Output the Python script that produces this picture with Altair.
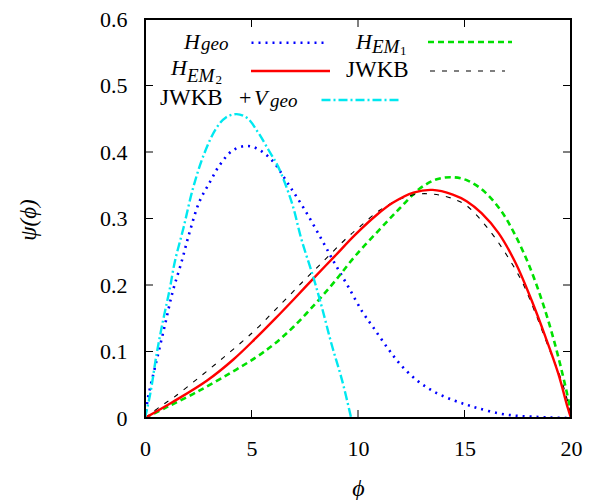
import altair as alt
import pandas as pd

# ---------------- data ----------------
X_TICKS = [0, 5, 10, 15, 20]
Y_TICKS = [0, 0.1, 0.2, 0.3, 0.4, 0.5, 0.6]
X_INNER_TICKS = [5, 10, 15]
Y_INNER_TICKS = [0.1, 0.2, 0.3, 0.4, 0.5]

# H_geo (blue dotted)
geo_x = [0, 0.15, 0.55, 0.95, 1.3, 1.7, 2.1, 2.55, 3.05, 3.5, 4.1, 4.7, 5.2, 5.95,
         6.7, 7.5, 8.3, 8.9, 9.55, 10.2, 10.7, 11.35, 11.95, 12.75, 13.55, 14.45,
         15.1, 15.65, 16.6, 17.4, 18.15, 19.0, 19.85]
geo_y = [0, 0.032, 0.087, 0.142, 0.19, 0.233, 0.28, 0.325, 0.355, 0.38, 0.402, 0.409,
         0.406, 0.388, 0.353, 0.313, 0.268, 0.233, 0.197, 0.16, 0.137, 0.107, 0.082,
         0.057, 0.04, 0.027, 0.02, 0.0146, 0.007, 0.0035, 0.002, 0.0008, 0]

# H_EM1 (green dashed)
em1_x = [0, 1.0, 2.25, 3.65, 5.2, 6.1, 7.0, 8.0, 8.9, 9.85, 11.0, 11.95, 12.9, 13.7,
         14.45, 15.15, 15.95, 16.75, 17.35, 18.0, 18.6, 19.1, 19.55, 19.95, 20]
em1_y = [0, 0.016, 0.036, 0.061, 0.091, 0.112, 0.138, 0.172, 0.205, 0.243, 0.283, 0.315,
         0.345, 0.359, 0.362, 0.357, 0.340, 0.310, 0.277, 0.232, 0.180, 0.128, 0.073,
         0.015, 0]

# H_EM2 (red solid)
em2_x = [0, 1.3, 2.9, 4.15, 5.2, 6.1, 7.0, 8.0, 8.9, 9.85, 10.9, 11.65, 12.6, 13.5,
         14.45, 15.1, 15.8, 16.6, 17.4, 18.15, 18.8, 19.4, 19.85, 20]
em2_y = [0, 0.024, 0.056, 0.088, 0.12, 0.149, 0.179, 0.213, 0.243, 0.275, 0.306, 0.324,
         0.339, 0.343, 0.336, 0.326, 0.308, 0.278, 0.233, 0.177, 0.122, 0.067, 0.015, 0]

# JWKB (black dashed)
jwkb_x = [0, 0.7, 1.35, 2.5, 3.65, 4.75, 5.2, 6.25, 7.35, 8.35, 9.45, 10.1, 11.0, 11.95,
          12.9, 13.85, 14.6, 15.15, 16.1, 16.9, 17.7, 18.3, 18.9, 19.55, 19.85, 20]
jwkb_y = [0, 0.017, 0.031, 0.06, 0.09, 0.12, 0.133, 0.167, 0.203, 0.235, 0.27, 0.288,
          0.312, 0.329, 0.337, 0.335, 0.328, 0.318, 0.285, 0.249, 0.205, 0.160, 0.110,
          0.057, 0.024, 0]

# JWKB + V_geo (cyan dash-dot)
jv_x = [0, 0.25, 0.55, 0.85, 1.15, 1.4, 1.8, 2.25, 2.75, 3.35, 3.8, 4.3, 4.8, 5.3, 5.8,
        6.25, 6.9, 7.35, 7.9, 8.3, 8.75, 9.25, 9.68]
jv_y = [0, 0.037, 0.097, 0.147, 0.192, 0.235, 0.285, 0.345, 0.395, 0.436, 0.452, 0.457,
        0.451, 0.43, 0.403, 0.378, 0.323, 0.268, 0.212, 0.167, 0.112, 0.057, 0.0]

# ---------------- layout / style ----------------
W, H = 426, 399
FONT = "Liberation Serif, DejaVu Serif, serif"

xs = alt.Scale(domain=[0, 20], nice=False, zero=False)
ys = alt.Scale(domain=[0, 0.6], nice=False, zero=False)

xaxis = alt.Axis(values=X_TICKS, format="d", domain=False, ticks=False, tickSize=0,
                 grid=False, labelFont=FONT, labelFontSize=22, labelColor="black",
                 labelPadding=20, labelFlush=False, title="ϕ", titleFont=FONT,
                 titleFontStyle="italic", titleFontWeight="normal", titleFontSize=24,
                 titleColor="black", titleX=W / 2, titleY=77, titleAlign="center",
                 titleBaseline="alphabetic")
yaxis = alt.Axis(values=Y_TICKS, domain=False, ticks=False, tickSize=0, grid=False,
                 labelExpr="datum.value == 0 ? '0' : format(datum.value, '.1f')",
                 labelFont=FONT, labelFontSize=22, labelColor="black", labelPadding=18,
                 labelFlush=False, title="ψ(ϕ)", titleFont=FONT, titleFontStyle="italic",
                 titleFontWeight="normal", titleFontSize=23, titleColor="black",
                 titleX=-117, titleY=H / 2 + 1, titleAngle=270, titleAlign="center",
                 titleBaseline="middle")


def curve(xv, yv, color, width, dash=None):
    df = pd.DataFrame({"phi": xv, "psi": yv})
    mk = dict(color=color, strokeWidth=width, interpolate="catmull-rom", clip=True)
    if dash:
        mk["strokeDash"] = dash
    return alt.Chart(df).mark_line(**mk).encode(
        x=alt.X("phi:Q", scale=xs, axis=xaxis),
        y=alt.Y("psi:Q", scale=ys, axis=yaxis),
    )


BLUE, GREEN, RED, BLACK, CYAN = "#0000ff", "#00e000", "#ff0000", "#000000", "#00e8f0"
DOT, DASH, BDASH, DASHDOT = [2, 5], [6, 4], [5, 7], [9, 3, 2, 3]

layers = [
    curve(geo_x, geo_y, BLUE, 2.6, DOT),
    curve(em1_x, em1_y, GREEN, 2.6, DASH),
    curve(jwkb_x, jwkb_y, BLACK, 1.1, BDASH),
    curve(em2_x, em2_y, RED, 2.4),
    curve(jv_x, jv_y, CYAN, 2.4, DASHDOT),
]

one = pd.DataFrame({"k": [0]})

# inward ticks on all four sides + frame
xt = pd.DataFrame({"t": X_INNER_TICKS})
yt = pd.DataFrame({"t": Y_INNER_TICKS})
tx = alt.X("t:Q", scale=xs, axis=xaxis)
ty = alt.Y("t:Q", scale=ys, axis=yaxis)
layers += [
    alt.Chart(xt).mark_rule(color="black", strokeWidth=1).encode(x=tx, y=alt.value(H), y2=alt.value(H - 8)),
    alt.Chart(xt).mark_rule(color="black", strokeWidth=1).encode(x=tx, y=alt.value(0), y2=alt.value(8)),
    alt.Chart(yt).mark_rule(color="black", strokeWidth=1).encode(y=ty, x=alt.value(0), x2=alt.value(8)),
    alt.Chart(yt).mark_rule(color="black", strokeWidth=1).encode(y=ty, x=alt.value(W), x2=alt.value(W - 8)),
    alt.Chart(one).mark_rect(fillOpacity=0, stroke="black", strokeWidth=2).encode(
        x=alt.value(0), x2=alt.value(W), y=alt.value(0), y2=alt.value(H)),
]

# ---------------- legend (manual, gnuplot style) ----------------


def txt(s, x, y, size=22, italic=True, align="left"):
    return alt.Chart(one).mark_text(
        text=s, font=FONT, fontSize=size, fontStyle="italic" if italic else "normal",
        align=align, baseline="alphabetic", color="black",
    ).encode(x=alt.value(x), y=alt.value(y))


def sample(x1, x2, y, color, width, dash=None):
    mk = dict(color=color, strokeWidth=width)
    if dash:
        mk["strokeDash"] = dash
    return alt.Chart(one).mark_rule(**mk).encode(x=alt.value(x1), x2=alt.value(x2), y=alt.value(y))


layers += [
    # row 1, col 1: H_geo
    txt("H", 55, 29.5, align="right"), txt("geo", 56, 31, 19),
    sample(106.5, 182, 23.7, BLUE, 2.6, DOT),
    # row 1, col 2: H_EM1
    txt("H", 227, 29.5, align="right"), txt("EM", 227, 33.5, 19),
    txt("1", 255, 35.5, 13, italic=False),
    sample(283, 367, 23, GREEN, 2.6, DASH),
    # row 2, col 1: H_EM2
    txt("H", 42, 56, align="right"), txt("EM", 42, 63, 19),
    txt("2", 70.5, 64.5, 13, italic=False),
    sample(106, 185, 52, RED, 2.4),
    # row 2, col 2: JWKB
    txt("JWKB", 201, 57.5, 23, italic=False),
    sample(285, 360, 52, BLACK, 1.1, BDASH),
    # row 3: JWKB + V_geo
    txt("JWKB", 15, 86, 23, italic=False), txt("+", 94, 86, 22, italic=False),
    txt("V", 109, 86), txt("geo", 125, 88, 19),
    sample(176.5, 255, 81, CYAN, 2.4, DASHDOT),
]

chart = alt.layer(*layers).properties(
    width=W, height=H, background="white",
    autosize=alt.AutoSizeParams(type="none"),
    padding={"left": 137, "top": 11, "right": 14, "bottom": 82},
).configure_view(strokeWidth=0)

chart.save("out.html", embed_options={"renderer": "svg", "actions": False})
